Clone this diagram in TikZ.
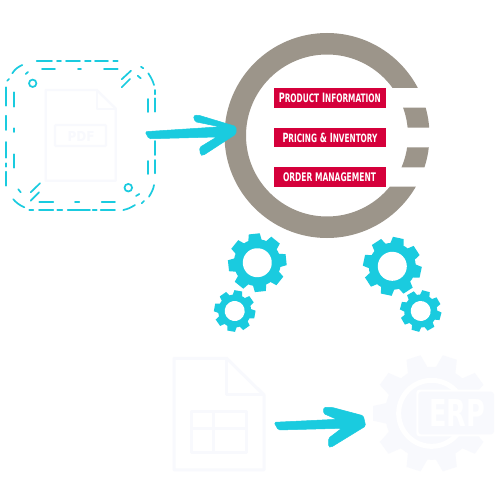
\documentclass[tikz,border=0pt]{standalone}
\usepackage{graphicx}
\usepackage{fontspec}
\setmainfont{DejaVu Sans}
\newfontfamily\heavyfont{DejaVu Sans}
\definecolor{cyanmark}{HTML}{1ACBDF}
\definecolor{ringgrey}{HTML}{9C958A}
\definecolor{crimsonbar}{HTML}{D5003B}
\definecolor{palemark}{HTML}{F8F9FD}
\tikzset{
  framemark/.style={draw=cyanmark,line width=1.7pt,line cap=round},
  palemarkline/.style={draw=palemark,line join=round},
  barbox/.style={fill=crimsonbar,draw=none},
  bartext/.style={text=white,inner sep=0pt,font=\bfseries},
  sketcharrow/.style={fill=cyanmark,draw=cyanmark,line width=.5pt,rounded corners=1.6pt,line join=round}
}
\newcommand{\cogwheel}[6]{% x y outer body hole rot
  \begin{scope}[shift={(#1,#2)},rotate=#6]
    \fill[cyanmark] (0,0) circle (#4pt);
    \foreach \ang in {0,45,...,315}{
      \fill[cyanmark,rotate=\ang] (-.26*#3,-.6*#3) -- (-.19*#3,-#3) -- (.19*#3,-#3) -- (.26*#3,-.6*#3) -- cycle;
    }
    \fill[white] (0,0) circle (#5pt);
  \end{scope}}
\newcommand{\barword}[3]{\resizebox{#1pt}{#2pt}{#3}}
\begin{document}
\begin{tikzpicture}[x=1pt,y=-1pt]
\useasboundingbox (0,0) rectangle (500,500);
\fill[white] (0,0) rectangle (500,500);

% PDF file icon
\draw[palemarkline,line width=2.3pt] (45.7,90) -- (96.7,90) -- (115.7,108.5) -- (115.7,180.7) -- (45.7,180.7) -- cycle;
\draw[palemarkline,line width=2.3pt] (96.7,90) -- (96.7,109) -- (115.7,109);
\draw[palemarkline,line width=2.3pt,rounded corners=1pt] (55,125) rectangle (106,146);
\node[inner sep=0pt,text=palemark] (pdflabel) at (81,136) {\resizebox{27pt}{10pt}{\heavyfont\bfseries PDF}};

% dashed frame
\foreach \xa/\xb in {36.7/52,57/61,66/80,85/90.7,95/108,113.3/117.7}{\draw[framemark] (\xa,60.7) -- (\xb,60.7);}
\foreach \xa/\xb in {42/55,78/81,104/117.7}{\draw[framemark] (\xa,68.7) -- (\xb,68.7);}
\foreach \xa/\xb in {29.3/33.3,39/53.3,57.3/62.3,67.7/90,92.7/96.7,100.7/115}{\draw[framemark] (\xa,210) -- (\xb,210);}
\foreach \xa/\xb in {39.3/53.3,75/79.3,101.7/115}{\draw[framemark] (\xa,202.3) -- (\xb,202.3);}
\foreach \ya/\yb in {87.3/105.7,115.7/130,142/157.7,163.3/166.7,171.7/185.7}{\draw[framemark] (5.9,\ya) -- (5.9,\yb);}
\foreach \ya/\yb in {92.3/106.7,128.3/132,154.3/167.7}{\draw[framemark] (13.7,\ya) -- (13.7,\yb);}
\foreach \ya/\yb in {90/94.3,98.3/111.7,141/155,160/173.3}{\draw[framemark] (155,\ya) -- (155,\yb);}
\foreach \ya/\yb in {99/112,161/174}{\draw[framemark] (147.7,\ya) -- (147.7,\yb);}
\draw[framemark] (12.3,73.3) .. controls (15,69) and (18,67) .. (22.3,65);
\draw[framemark] (13.3,199.3) .. controls (16,202.5) and (20,205.5) .. (24.3,207.3);
\draw[framemark] (123.3,210) .. controls (128,209) and (131,207.5) .. (135,205);
\draw[framemark] (148.3,73.3) .. controls (150.5,76.5) and (153,81) .. (154,85);
\draw[framemark] (149,196.7) .. controls (151.5,192.5) and (153.5,189) .. (154,185);
\draw[framemark] (7.3,80.7) -- (9,79);
\draw[framemark] (25.7,74) -- (28,72);
\draw[framemark] (18.3,189.3) -- (20.7,192.3);
\draw[framemark] (30.7,192.3) -- (40,183.3);
\draw[framemark] (30.7,200.7) -- (39,192.3);
\draw[framemark] (121.7,79.3) -- (131,70.7);
\draw[framemark] (121.7,87.3) -- (130,79);
\draw[framemark] (137.7,75.7) -- (140.7,78.3);
\draw[framemark] (141,66.7) -- (143.3,68.3);
\draw[framemark] (141.7,203.3) -- (144,201);
\draw[framemark] (136,196) -- (139.3,194);
\draw[framemark] (32.7,83.3) circle (3.7pt);
\draw[framemark] (128.3,187.7) circle (3.8pt);

% ring
\begin{scope}
  \clip (200,0) rectangle (450,88) (200,186.7) rectangle (450,260) (200,88) rectangle (350,186.7)
        (350,107.7) rectangle (450,127.7) (350,147.3) rectangle (450,167.3);
  \fill[ringgrey,even odd rule] (327,135.5) circle (102.5pt) (327,135.5) circle (81pt);
\end{scope}

% red bars
\fill[barbox] (274,88.3) rectangle (385.7,107.7);
\fill[barbox] (274,127.7) rectangle (385.7,147.3);
\fill[barbox] (274,167.3) rectangle (385.7,186.7);
\node[bartext] (product) at (329.8,98) {\barword{102}{9.4}{P{\small RODUCT} I{\small NFORMATION}}};
\node[bartext] (pricing) at (330,137.5) {\barword{95}{9.4}{P{\small RICING} \& I{\small NVENTORY}}};
\node[bartext] (order) at (329.5,177) {\barword{93}{8.8}{ORDER MANAGEMENT}};

% arrows
\fill[sketcharrow] (145,131.7) -- (220,126.8) -- (195,121.7) -- (193.3,115.7) -- (198,115) -- (236,126.5) -- (236,134) -- (203,155.5) -- (200.5,155) -- (199.5,147.5) -- (216.7,137) -- (149,138.8) -- cycle;
\fill[sketcharrow] (274,422.3) -- (336.7,419.3) -- (323.5,413.5) -- (323.5,407.5) -- (331.7,407.3) -- (363.3,415.7) -- (365.7,426) -- (331,447.3) -- (328.5,446.7) -- (328.5,438.3) -- (341.7,428.3) -- (278.3,430) -- cycle;

% cogs
\cogwheel{257.3}{262.7}{29}{23.5}{14.5}{6}
\cogwheel{234.7}{311}{20.5}{16.5}{10}{-10}
\cogwheel{392.3}{266.3}{29}{23.5}{14.5}{-12}
\cogwheel{420.7}{311}{20.5}{16.5}{10}{-15}

% spreadsheet icon
\begin{scope}[x=.33333pt,y=-.33333pt,shift={(480,1035)}]
  \draw[palemarkline,line width=3pt] (42,40) -- (200,40) -- (312,150) -- (312,375) -- (42,375) -- cycle;
  \draw[palemarkline,line width=3pt] (200,40) -- (200,150) -- (312,150);
  \draw[palemarkline,line width=3pt] (95,200) rectangle (258,322);
  \draw[palemarkline,line width=3pt] (160,200) -- (160,322);
  \draw[palemarkline,line width=3pt] (95,250) -- (258,250);
\end{scope}

% ERP icon
\begin{scope}[x=.33333pt,y=-.33333pt,shift={(1110,1035)}]
  \clip (0,0) rectangle (390,390);
  \begin{scope}[shift={(185,205)}]
    \fill[palemark] (0,0) circle (46.5pt);
    \foreach \ang in {0,36,...,324}{
      \fill[palemark,rotate=\ang] (130,-32) -- (176,-22) -- (176,22) -- (130,32) -- cycle;
    }
  \end{scope}
  \begin{scope}
    \clip (0,0) rectangle (272,390);
    \draw[white,line width=5pt] (185,205) circle (33pt);
  \end{scope}
  \fill[white,rounded corners=3pt] (139,134) rectangle (378,274);
  \fill[palemark,rounded corners=3pt] (145,140) rectangle (372,268);
  \node[inner sep=0pt,text=white] (erplabel) at (261.5,205) {\resizebox{56pt}{27pt}{\heavyfont\bfseries ERP}};
\end{scope}
\end{tikzpicture}
\end{document}
